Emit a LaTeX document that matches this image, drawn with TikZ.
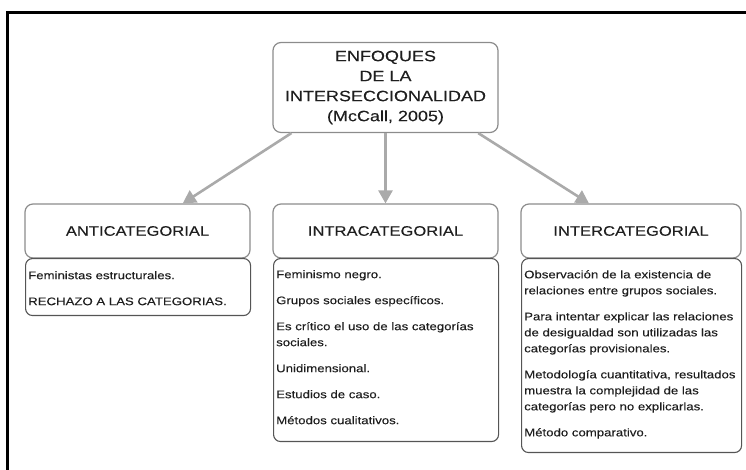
\documentclass[tikz,border=0pt]{standalone}
\usepackage{fontspec}
\setmainfont{Liberation Sans}[FakeStretch=1.2,FakeBold=0.15]
\usetikzlibrary{arrows.meta,calc}
\definecolor{txt}{HTML}{1E1E1E}
\definecolor{arr}{HTML}{AAAAAA}
\definecolor{hbord}{HTML}{8C8C8C}
\definecolor{cbord}{HTML}{555555}
\begin{document}
\begin{tikzpicture}[x=1pt,y=1pt,
  topbox/.style={draw=hbord,line width=1.2pt,rounded corners=8pt,minimum width=225pt,minimum height=90pt,inner sep=0pt,
     align=center,text=txt,font=\fontsize{15}{20}\selectfont},
  headbox/.style={draw=hbord,line width=1.2pt,rounded corners=8pt,minimum height=54pt,inner sep=0pt,
     text=txt,font=\fontsize{13.8}{17}\selectfont},
  contbox/.style={draw=cbord,line width=1.1pt,rounded corners=7pt,inner sep=0pt,anchor=north west},
  conttext/.style={anchor=north west,inner sep=0pt,text=txt,align=left,
     font=\fontsize{11}{16}\selectfont},
  conn/.style={draw=arr,line width=2.6pt,-{Triangle[length=13pt,width=14pt]}}]
\useasboundingbox (0,0) rectangle (746,470);
% outer frame (left and top)
\draw[line width=3pt,black] (7,0) -- (7,457) -- (746,457);
% top node
\node[topbox] (top) at (385.5,382.5) {ENFOQUES\\DE LA\\INTERSECCIONALIDAD\\(McCall, 2005)};
% headers
\node[headbox,minimum width=225pt] (h1) at (137.5,239) {ANTICATEGORIAL};
\node[headbox,minimum width=225pt] (h2) at (385.5,239) {INTRACATEGORIAL};
\node[headbox,minimum width=220pt] (h3) at (631,239) {INTERCATEGORIAL};
% content boxes
\node[contbox,minimum width=225pt,minimum height=57pt] (c1) at (25,212) {};
\node[contbox,minimum width=225pt,minimum height=183pt] (c2) at (273,212) {};
\node[contbox,minimum width=220pt,minimum height=194pt] (c3) at (521,212) {};
% content texts
\node[conttext] (t1) at ($(c1.north west)+(3,-13)$) {Feministas estructurales.\\[10pt]RECHAZO A LAS CATEGORIAS.};
\node[conttext] (t2) at ($(c2.north west)+(3,-12)$) {Feminismo negro.\\[10pt]Grupos sociales específicos.\\[10pt]Es crítico el uso de las categorías\\sociales.\\[10pt]Unidimensional.\\[10pt]Estudios de caso.\\[10pt]Métodos cualitativos.};
\node[conttext] (t3) at ($(c3.north west)+(3,-12)$) {Observación de la existencia de\\relaciones entre grupos sociales.\\[10pt]Para intentar explicar las relaciones\\de desigualdad son utilizadas las\\categorías provisionales.\\[10pt]Metodología cuantitativa, resultados\\muestra la complejidad de las\\categorías pero no explicarlas.\\[10pt]Método comparativo.};
% connectors
\draw[conn] ($(top.south west)!0.084!(top.south east)$) -- ($(h1.north west)!0.70!(h1.north east)$);
\draw[conn] (top.south) -- (h2.north);
\draw[conn] ($(top.south west)!0.91!(top.south east)$) -- ($(h3.north west)!0.31!(h3.north east)$);
\end{tikzpicture}
\end{document}
